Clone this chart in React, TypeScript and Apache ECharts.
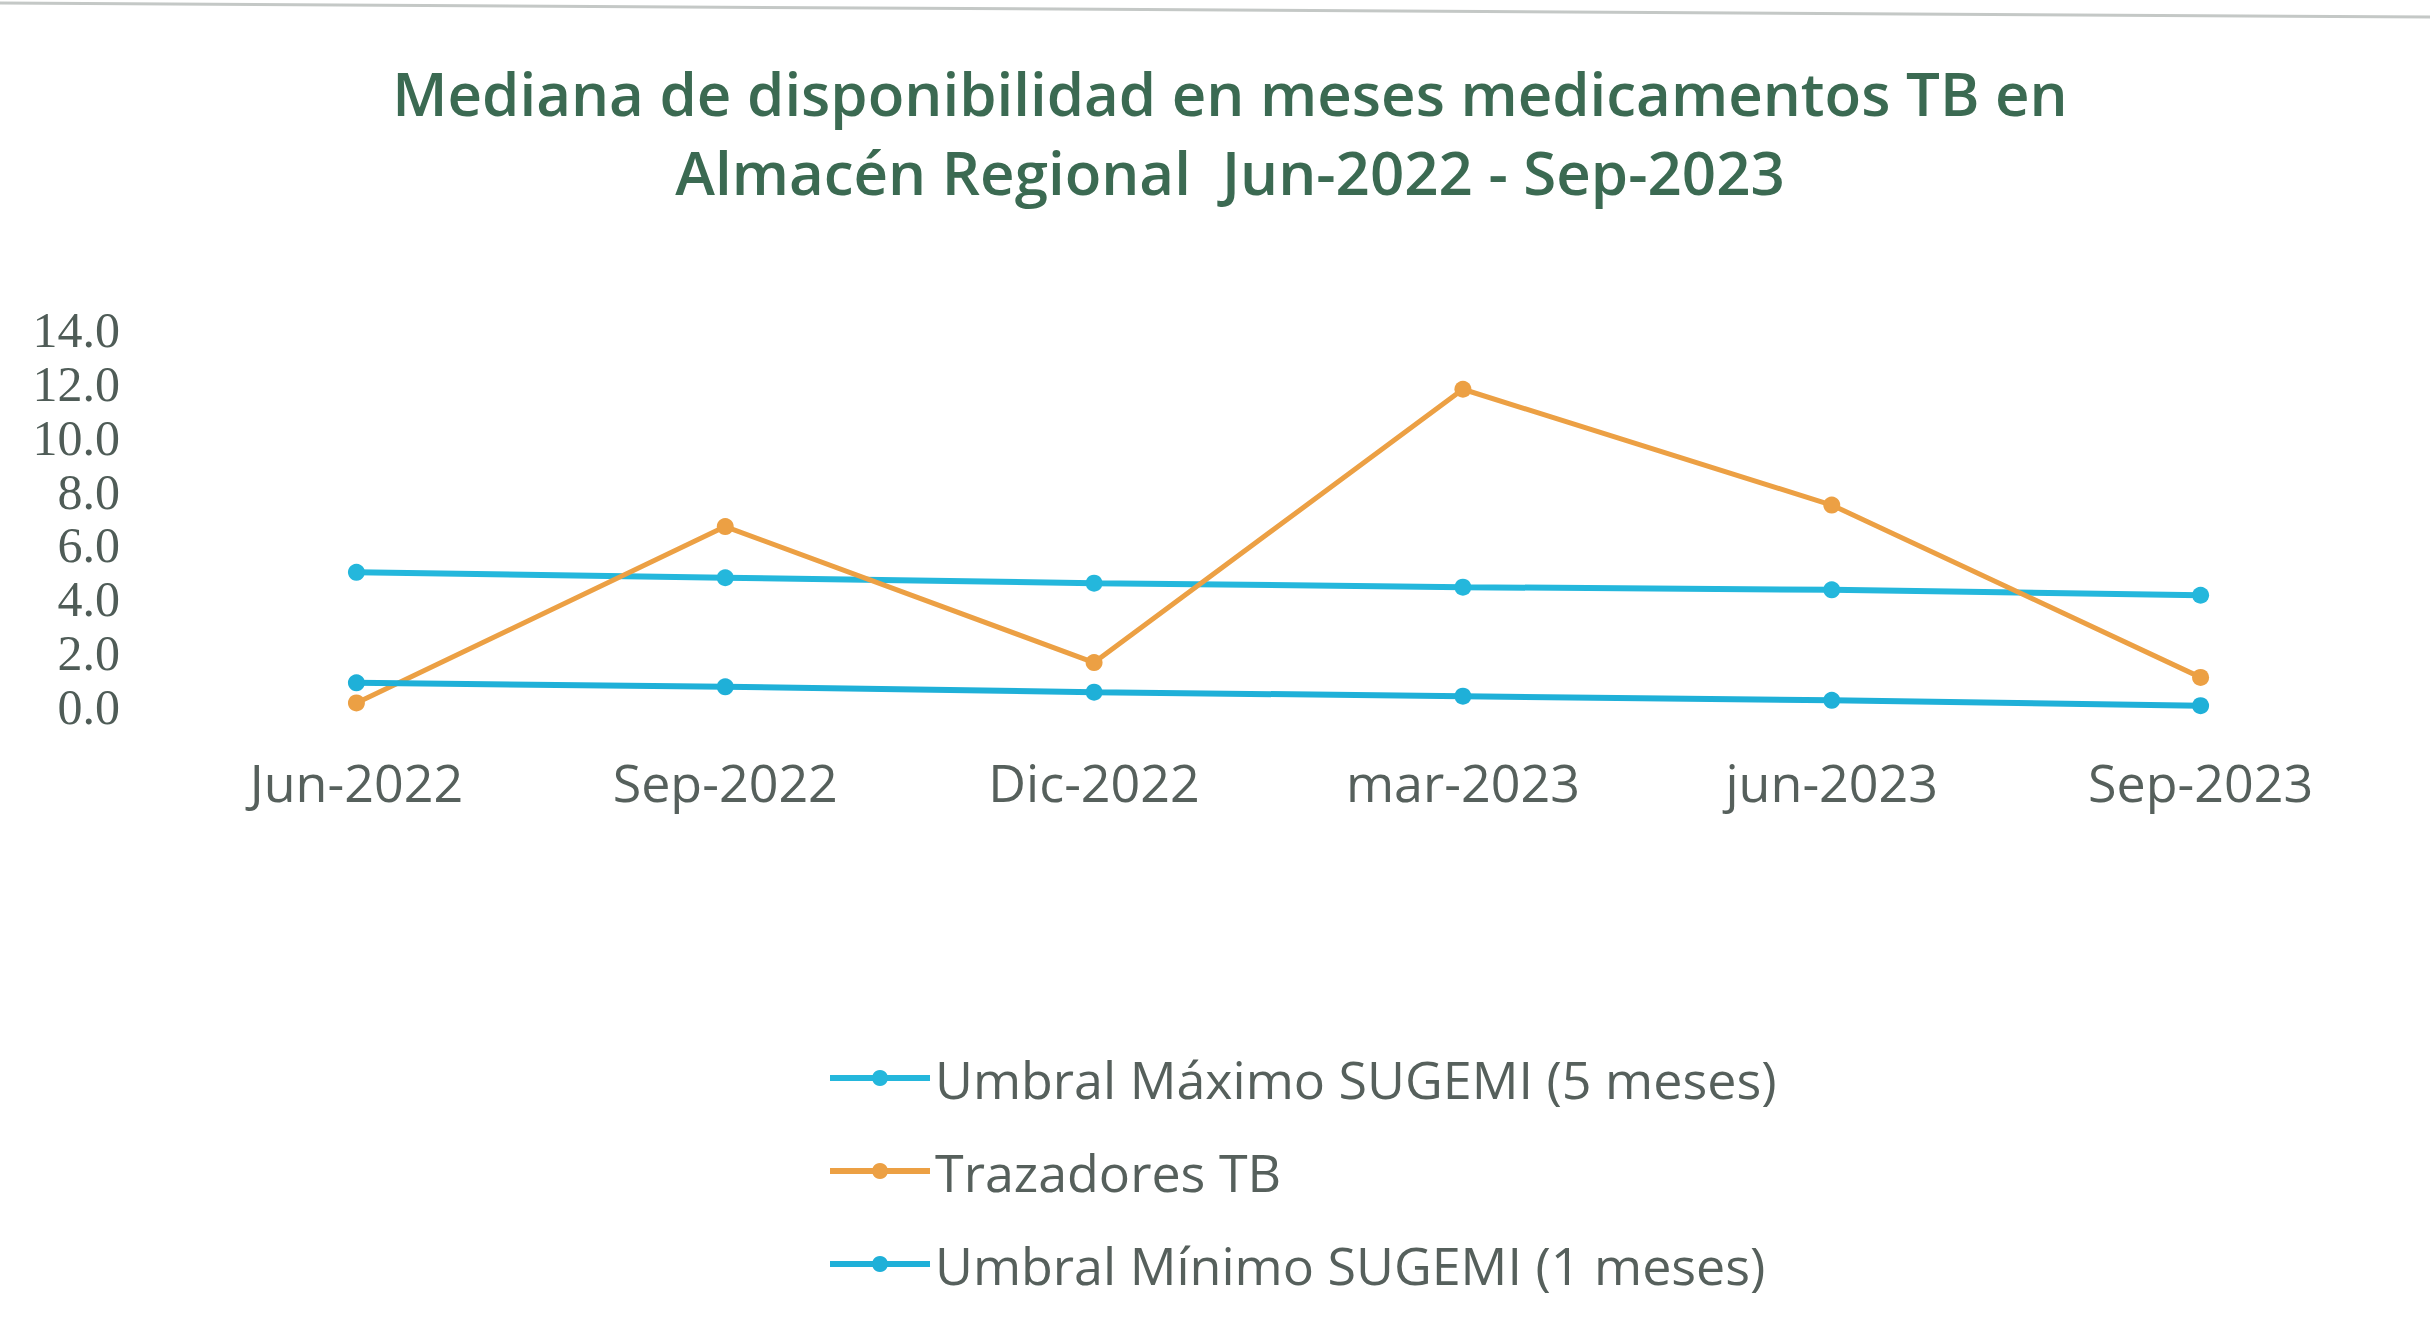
import React, { useEffect, useRef } from "react";
import * as echarts from "echarts";

const categories = ["Jun-2022", "Sep-2022", "Dic-2022", "mar-2023", "jun-2023", "Sep-2023"];
const umbralMaximo = [5.0, 4.8, 4.6, 4.45, 4.35, 4.15];
const trazadoresTB = [0.15, 6.7, 1.65, 11.8, 7.5, 1.1];
const umbralMinimo = [0.9, 0.75, 0.55, 0.4, 0.25, 0.05];
const seriesNames = [
  "Umbral Máximo SUGEMI (5 meses)",
  "Trazadores TB",
  "Umbral Mínimo SUGEMI (1 meses)",
];
const titleText = "Mediana de disponibilidad en meses medicamentos TB en\nAlmacén Regional  Jun-2022 - Sep-2023";

export default function App() {
  const ref = useRef<HTMLDivElement>(null);
  useEffect(() => {
    if (!ref.current) return;
    const chart = echarts.init(ref.current, undefined, { renderer: "svg" });
    const textColor = "#56605c";
    chart.setOption({
      animation: false,
      backgroundColor: "#ffffff",
      title: {
        text: titleText,
        left: 1225,
        textAlign: "center",
        top: 48,
        textStyle: {
          fontFamily: "Open Sans",
          fontWeight: 600,
          fontSize: 60,
          lineHeight: 79,
          color: "#3b6a52",
        },
      },
      graphic: [
        {
          type: "line",
          shape: { x1: 0, y1: 3, x2: 2430, y2: 17 },
          style: { stroke: "#c4c8c6", lineWidth: 3 },
        },
      ],
      legend: {
        orient: "vertical",
        left: 822,
        top: 1043,
        itemWidth: 100,
        itemHeight: 20,
        itemGap: 33,
        lineStyle: { width: 6 },
        textStyle: {
          fontFamily: "Open Sans",
          fontSize: 52,
          lineHeight: 60,
          color: textColor,
        },
        data: seriesNames,
      },
      grid: { left: 172, top: 330, width: 2213, height: 377, containLabel: false },
      xAxis: {
        type: "category",
        data: categories,
        boundaryGap: true,
        axisLine: { show: false },
        axisTick: { show: false },
        splitLine: { show: false },
        axisLabel: {
          margin: 48,
          fontFamily: "Open Sans",
          fontSize: 52,
          color: textColor,
        },
      },
      yAxis: {
        type: "value",
        min: 0,
        max: 14,
        interval: 2,
        axisLine: { show: false },
        axisTick: { show: false },
        splitLine: { show: false },
        axisLabel: {
          margin: 52,
          fontFamily: "Liberation Serif",
          fontSize: 50,
          color: "#4f5c57",
          formatter: (v: number) => v.toFixed(1),
        },
      },
      series: [
        {
          name: seriesNames[0],
          type: "line",
          data: umbralMaximo,
          symbol: "circle",
          symbolSize: 17,
          lineStyle: { width: 6, color: "#24b7dc" },
          itemStyle: { color: "#24b7dc" },
        },
        {
          name: seriesNames[1],
          type: "line",
          data: trazadoresTB,
          symbol: "circle",
          symbolSize: 17,
          lineStyle: { width: 5, color: "#eca044" },
          itemStyle: { color: "#eca044" },
        },
        {
          name: seriesNames[2],
          type: "line",
          data: umbralMinimo,
          symbol: "circle",
          symbolSize: 17,
          lineStyle: { width: 6, color: "#1fb0d8" },
          itemStyle: { color: "#1fb0d8" },
        },
      ],
    });
    return () => chart.dispose();
  }, []);
  return (
    <div
      ref={ref}
      style={{ position: "absolute", left: 0, top: 0, width: 2430, height: 1319 }}
    />
  );
}
